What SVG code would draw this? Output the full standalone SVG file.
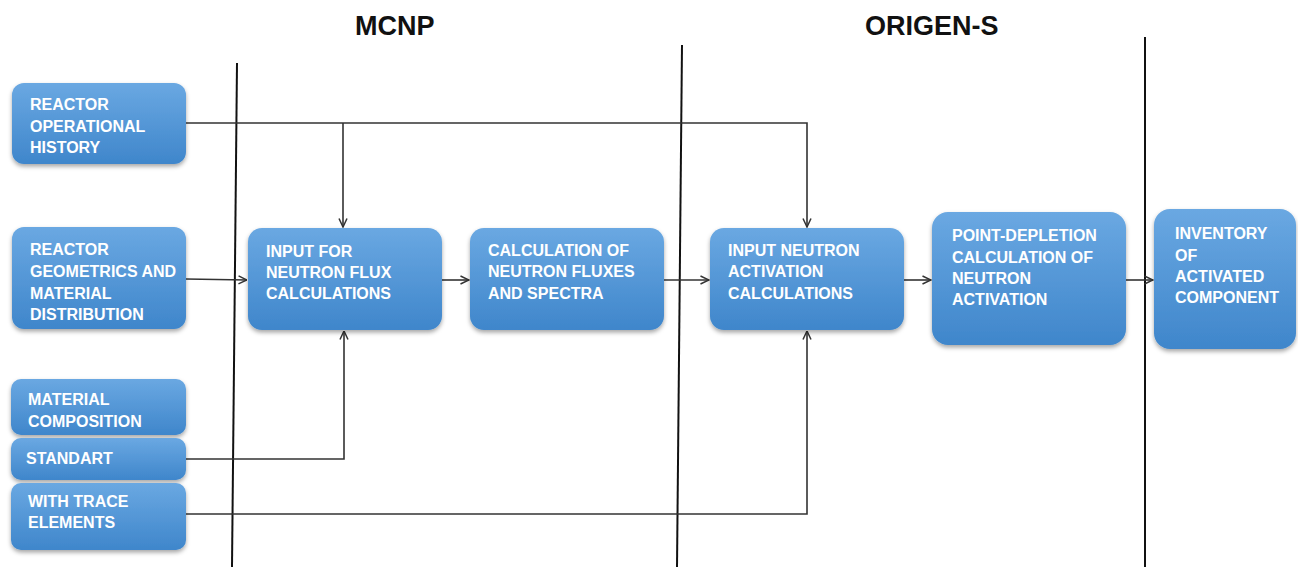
<svg xmlns="http://www.w3.org/2000/svg" width="1298" height="567" viewBox="0 0 1298 567">
<style>
.box{fill:url(#g);filter:url(#sh);}
.t{font-family:"Liberation Sans",Arial,sans-serif;font-weight:bold;font-size:16px;fill:#ffffff;}
.h{font-family:"Liberation Sans",Arial,sans-serif;font-weight:bold;font-size:27px;fill:#111111;}
.c{fill:none;stroke:#333333;stroke-width:1.6;}
.d{fill:none;stroke:#111111;stroke-width:2;}
</style>
<defs>
<linearGradient id="g" x1="0" y1="0" x2="0" y2="1">
<stop offset="0" stop-color="#6aa8e2"/>
<stop offset="1" stop-color="#3f86cb"/>
</linearGradient>
<filter id="sh" x="-10%" y="-10%" width="120%" height="130%">
<feDropShadow dx="0" dy="2.5" stdDeviation="2" flood-color="#000" flood-opacity="0.35"/>
</filter>
<marker id="a" viewBox="0 0 10 10" refX="9.5" refY="5" markerWidth="10" markerHeight="10" markerUnits="userSpaceOnUse" orient="auto">
<path d="M1,1 L9.5,5 L1,9" fill="none" stroke="#333333" stroke-width="1.5"/>
</marker>
</defs>
<rect width="1298" height="567" fill="#ffffff"/>

<g id="dividers">
<line class="d" x1="237" y1="63" x2="232" y2="567"/>
<line class="d" x1="682" y1="45" x2="677" y2="567"/>
<line class="d" x1="1145" y1="37" x2="1145" y2="567"/>
</g>

<g id="titles">
<text class="h" x="355" y="35">MCNP</text>
<text class="h" x="865" y="35">ORIGEN-S</text>
</g>

<g id="connectors">
<path class="c" d="M186,123 H807 V227" marker-end="url(#a)"/>
<path class="c" d="M343,123 V227" marker-end="url(#a)"/>
<path class="c" d="M186,279 L247,280" marker-end="url(#a)"/>
<path class="c" d="M442,280 H469" marker-end="url(#a)"/>
<path class="c" d="M664,280 H709" marker-end="url(#a)"/>
<path class="c" d="M904,280 H931" marker-end="url(#a)"/>
<path class="c" d="M1126,280 H1153" marker-end="url(#a)"/>
<path class="c" d="M186,459 H344 V331" marker-end="url(#a)"/>
<path class="c" d="M186,514 H807 V331" marker-end="url(#a)"/>
</g>

<g id="n-history">
<rect class="box" x="12" y="83" width="174" height="81" rx="12"/>
<text class="t" x="30" y="110">REACTOR</text>
<text class="t" x="30" y="132">OPERATIONAL</text>
<text class="t" x="30" y="153">HISTORY</text>
</g>

<g id="n-geometrics">
<rect class="box" x="12" y="227" width="174" height="102" rx="12"/>
<text class="t" x="30" y="255">REACTOR</text>
<text class="t" x="30" y="277">GEOMETRICS AND</text>
<text class="t" x="30" y="299">MATERIAL</text>
<text class="t" x="30" y="320">DISTRIBUTION</text>
</g>

<g id="n-material">
<rect class="box" x="11" y="379" width="175" height="56" rx="10"/>
<text class="t" x="28" y="405">MATERIAL</text>
<text class="t" x="28" y="427">COMPOSITION</text>
</g>

<g id="n-standart">
<rect class="box" x="11" y="438" width="175" height="42" rx="10"/>
<text class="t" x="26" y="464">STANDART</text>
</g>

<g id="n-trace">
<rect class="box" x="11" y="483" width="175" height="67" rx="10"/>
<text class="t" x="28" y="507">WITH TRACE</text>
<text class="t" x="28" y="528">ELEMENTS</text>
</g>

<g id="n-input-flux">
<rect class="box" x="248" y="228" width="194" height="102" rx="14"/>
<text class="t" x="266" y="257">INPUT FOR</text>
<text class="t" x="266" y="278">NEUTRON FLUX</text>
<text class="t" x="266" y="299">CALCULATIONS</text>
</g>

<g id="n-calc-flux">
<rect class="box" x="470" y="228" width="194" height="102" rx="14"/>
<text class="t" x="488" y="256">CALCULATION OF</text>
<text class="t" x="488" y="277">NEUTRON FLUXES</text>
<text class="t" x="488" y="299">AND SPECTRA</text>
</g>

<g id="n-input-activation">
<rect class="box" x="710" y="228" width="194" height="102" rx="14"/>
<text class="t" x="728" y="256">INPUT NEUTRON</text>
<text class="t" x="728" y="277">ACTIVATION</text>
<text class="t" x="728" y="299">CALCULATIONS</text>
</g>

<g id="n-point-depletion">
<rect class="box" x="932" y="212" width="194" height="133" rx="16"/>
<text class="t" x="952" y="241">POINT-DEPLETION</text>
<text class="t" x="952" y="263">CALCULATION OF</text>
<text class="t" x="952" y="284">NEUTRON</text>
<text class="t" x="952" y="305">ACTIVATION</text>
</g>

<g id="n-inventory">
<rect class="box" x="1154" y="209" width="142" height="140" rx="16"/>
<text class="t" x="1175" y="239">INVENTORY</text>
<text class="t" x="1175" y="261">OF</text>
<text class="t" x="1175" y="282">ACTIVATED</text>
<text class="t" x="1175" y="303">COMPONENT</text>
</g>
</svg>
